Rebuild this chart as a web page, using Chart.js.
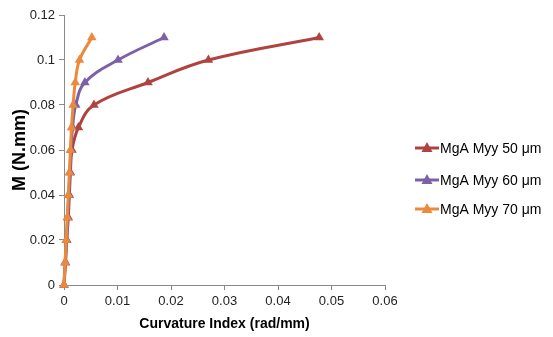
<!DOCTYPE html>
<html>
<head>
<meta charset="utf-8">
<script src="https://cdn.jsdelivr.net/npm/chart.js@4.4.0/dist/chart.umd.min.js"></script>
<style>
  html, body { margin: 0; padding: 0; background: #fff; }
  #wrap { width: 553px; height: 337px; }
</style>
</head>
<body>
<div id="wrap"><canvas id="chart" width="553" height="337"></canvas></div>
<script>
// Moment values shared by all three series
const moments = [0, 0.01, 0.02, 0.03, 0.04, 0.05, 0.06, 0.07, 0.08, 0.09, 0.1, 0.11];

// Curvature index, one per moment value
const curv50 = [0, 0.0003, 0.0005, 0.0008, 0.0010, 0.0012, 0.0015, 0.0027, 0.0056, 0.0157, 0.0270, 0.0477];
const curv60 = [0, 0.0002, 0.0005, 0.0007, 0.0009, 0.0011, 0.0013, 0.0016, 0.0022, 0.0039, 0.0101, 0.0187];
const curv70 = [0, 0.0002, 0.0004, 0.0006, 0.0008, 0.0010, 0.0012, 0.0014, 0.0017, 0.0021, 0.0029, 0.0052];

const seriesNames = ['MgA Myy 50 μm', 'MgA Myy 60 μm', 'MgA Myy 70 μm'];
const seriesColors = ['#B0433F', '#7D60A6', '#EC8A3C'];

const xTicks = [0, 0.01, 0.02, 0.03, 0.04, 0.05, 0.06];
const yTicks = [0, 0.02, 0.04, 0.06, 0.08, 0.1, 0.12];

const fonts = {
  tick: "'Liberation Sans Narrow', 'Liberation Sans', Arial, sans-serif",
  body: "'Liberation Sans', Arial, sans-serif"
};

function toPoints(xs) {
  return xs.map((x, i) => ({ x: x, y: moments[i] }));
}

function fmt(v) {
  return String(+v.toFixed(2));
}

// Excel style legend: short line with a marker, drawn at the right side
const sideLegend = {
  id: 'sideLegend',
  afterDraw(chart) {
    const ctx = chart.ctx;
    const rows = [148, 180, 209];
    chart.data.datasets.forEach((ds, i) => {
      const y = rows[i];
      ctx.save();
      ctx.strokeStyle = ds.borderColor;
      ctx.lineWidth = 3;
      ctx.beginPath();
      ctx.moveTo(415, y);
      ctx.lineTo(439, y);
      ctx.stroke();
      ctx.fillStyle = ds.borderColor;
      ctx.beginPath();
      ctx.moveTo(427, y - 6);
      ctx.lineTo(432.5, y + 4);
      ctx.lineTo(421.5, y + 4);
      ctx.closePath();
      ctx.fill();
      ctx.fillStyle = '#000';
      ctx.font = '14px ' + fonts.body;
      ctx.textBaseline = 'middle';
      ctx.fillText(ds.label, 440, y + 1);
      ctx.restore();
    });
  }
};

// later series sit on top, as in the reference
const datasets = [curv50, curv60, curv70].map((xs, i) => ({
  label: seriesNames[i],
  data: toPoints(xs),
  order: 3 - i,
  clip: false,
  showLine: true,
  borderColor: seriesColors[i],
  backgroundColor: seriesColors[i],
  borderWidth: 3,
  tension: 0.4,
  pointStyle: 'triangle',
  pointRadius: 5.5,
  pointBorderWidth: 0
}));

new Chart(document.getElementById('chart'), {
  type: 'scatter',
  data: { datasets: datasets },
  plugins: [sideLegend],
  options: {
    responsive: false,
    animation: false,
    layout: { padding: { left: 0, right: 168, top: 15, bottom: 0 } },
    plugins: {
      legend: { display: false },
      tooltip: { enabled: false }
    },
    scales: {
      x: {
        type: 'linear',
        min: 0,
        max: 0.06,
        afterBuildTicks: (axis) => { axis.ticks = xTicks.map(v => ({ value: v })); },
        afterFit: (axis) => { axis.height = 52; },
        grid: { drawOnChartArea: false, color: '#8a8a8a', tickLength: 5 },
        border: { color: '#8a8a8a', width: 1 },
        ticks: {
          color: '#222',
          font: { family: fonts.tick, size: 13 },
          padding: 4,
          maxRotation: 0,
          callback: fmt
        },
        title: {
          display: true,
          text: 'Curvature Index (rad/mm)',
          color: '#000',
          font: { family: fonts.body, size: 14, weight: 'bold' },
          padding: { top: 4, bottom: 4 }
        }
      },
      y: {
        type: 'linear',
        min: 0,
        max: 0.12,
        afterBuildTicks: (axis) => { axis.ticks = yTicks.map(v => ({ value: v })); },
        afterFit: (axis) => { axis.width = 64; },
        grid: { drawOnChartArea: false, color: '#8a8a8a', tickLength: 5 },
        border: { color: '#8a8a8a', width: 1 },
        ticks: {
          color: '#222',
          font: { family: fonts.tick, size: 13 },
          padding: 4,
          callback: fmt
        },
        title: {
          display: true,
          text: 'M (N.mm)',
          color: '#000',
          font: { family: fonts.body, size: 18, weight: 'bold' },
          padding: { top: 9, bottom: 4 }
        }
      }
    }
  }
});
</script>
</body>
</html>
